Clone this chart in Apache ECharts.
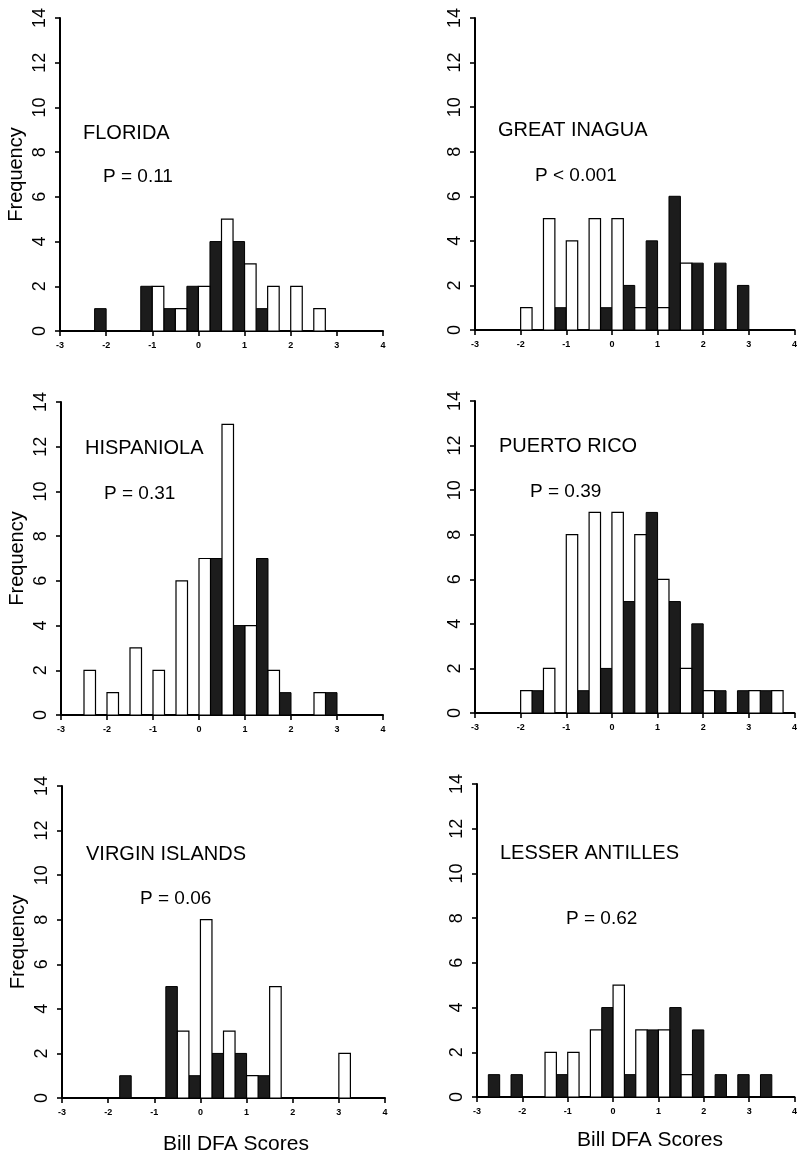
<!DOCTYPE html>
<html>
<head>
<meta charset="utf-8">
<script src="https://cdn.jsdelivr.net/npm/echarts@6/dist/echarts.min.js"></script>
<style>
html,body{margin:0;padding:0;background:#fff;}
#chart{width:800px;height:1156px;}
</style>
</head>
<body>
<div id="chart"></div>
<script>
// ---- Data ----
const binCenters = [-2.5, -2, -1.5, -1, -0.5, 0, 0.5, 1, 1.5, 2, 2.5, 3, 3.5];
const binWidth = 0.5;
const regions = ["FLORIDA", "GREAT INAGUA", "HISPANIOLA", "PUERTO RICO", "VIRGIN ISLANDS", "LESSER ANTILLES"];
const pLabels = ["P = 0.11", "P < 0.001", "P = 0.31", "P = 0.39", "P = 0.06", "P = 0.62"];

const floridaDark     = [0, 1, 0, 2, 1, 2, 4, 4, 1, 0, 0, 0, 0];
const floridaWhite    = [0, 0, 0, 2, 1, 2, 5, 3, 2, 2, 1, 0, 0];
const inaguaDark      = [0, 0, 0, 1, 0, 1, 2, 4, 6, 3, 3, 2, 0];
const inaguaWhite     = [0, 1, 5, 4, 5, 5, 1, 1, 3, 0, 0, 0, 0];
const hispaniolaDark  = [0, 0, 0, 0, 0, 0, 7, 4, 7, 1, 0, 1, 0];
const hispaniolaWhite = [2, 1, 3, 2, 6, 7, 13, 4, 2, 0, 1, 0, 0];
const puertoRicoDark  = [0, 0, 1, 0, 1, 2, 5, 9, 5, 4, 1, 1, 1];
const puertoRicoWhite = [0, 1, 2, 8, 9, 9, 8, 6, 2, 1, 0, 1, 1];
const virginDark      = [0, 0, 1, 0, 5, 1, 2, 2, 1, 0, 0, 0, 0];
const virginWhite     = [0, 0, 0, 0, 3, 8, 3, 1, 5, 0, 0, 2, 0];
const lesserDark      = [1, 1, 0, 1, 0, 4, 1, 3, 4, 3, 1, 1, 1];
const lesserWhite     = [0, 0, 2, 2, 3, 5, 3, 3, 1, 0, 0, 0, 0];

const darkCounts  = [floridaDark, inaguaDark, hispaniolaDark, puertoRicoDark, virginDark, lesserDark];
const whiteCounts = [floridaWhite, inaguaWhite, hispaniolaWhite, puertoRicoWhite, virginWhite, lesserWhite];

const xTicks = { min: -3, max: 4, interval: 1 };
const yTicks = { min: 0, max: 14, interval: 2 };
const xAxisTitle = "Bill DFA Scores";
const yAxisTitle = "Frequency";

// ---- Layout (positions, not data) ----
const gridBoxes = [
  { left: 60,  top: 18,  width: 323, height: 313 },
  { left: 475, top: 18,  width: 320, height: 312 },
  { left: 61,  top: 402, width: 322, height: 313 },
  { left: 475, top: 401, width: 320, height: 312 },
  { left: 62,  top: 786, width: 323, height: 312 },
  { left: 477, top: 784, width: 320, height: 313 }
];
const regionPos = [[83, 123], [498, 120], [85, 438], [499, 436], [86, 844], [500, 843]];
const pPos = [[103, 167], [535, 166], [104, 484], [530, 482], [140, 889], [566, 909]];
const FONT = "'Liberation Sans', Arial, Helvetica, sans-serif";

function toPairs(counts) {
  const out = [];
  binCenters.forEach((c, i) => { if (counts[i] > 0) out.push([c, counts[i]]); });
  return out;
}

function makeRender(lo, hi) {
  return function (params, api) {
    const c = api.value(0), v = api.value(1);
    const p0 = api.coord([c + lo, v]);
    const p1 = api.coord([c + hi, 0]);
    return {
      type: 'rect',
      shape: { x: p0[0], y: p0[1], width: p1[0] - p0[0], height: p1[1] - p0[1] },
      style: api.style()
    };
  };
}

const grid = [], xAxis = [], yAxis = [], series = [], title = [];
gridBoxes.forEach((g, i) => {
  grid.push(Object.assign({ containLabel: false }, g));
  xAxis.push({
    type: 'value', gridIndex: i, min: xTicks.min, max: xTicks.max, interval: xTicks.interval,
    splitLine: { show: false },
    axisLine: { show: true, onZero: false, lineStyle: { color: '#000', width: 2 } },
    axisTick: { show: true, length: 5, lineStyle: { color: '#000', width: 1.6 } },
    axisLabel: { color: '#000', fontSize: 9, fontWeight: 'bold', fontFamily: FONT, margin: 10 }
  });
  yAxis.push({
    type: 'value', gridIndex: i, min: yTicks.min, max: yTicks.max, interval: yTicks.interval,
    splitLine: { show: false },
    axisLine: { show: true, onZero: false, lineStyle: { color: '#000', width: 2 } },
    axisTick: { show: true, length: 5, lineStyle: { color: '#000', width: 1.6 } },
    axisLabel: { color: '#000', fontSize: 18, fontFamily: FONT, rotate: 90, margin: 11 },
    name: (i % 2 === 0) ? yAxisTitle : '',
    nameLocation: 'middle', nameGap: 34,
    nameTextStyle: { color: '#000', fontSize: 20, fontFamily: FONT }
  });
  series.push({
    type: 'custom', xAxisIndex: i, yAxisIndex: i,
    renderItem: makeRender(-binWidth / 2, 0),
    itemStyle: { color: '#1c1c1c', borderColor: '#000', borderWidth: 1 },
    data: toPairs(darkCounts[i]),
    silent: true
  });
  series.push({
    type: 'custom', xAxisIndex: i, yAxisIndex: i,
    renderItem: makeRender(0, binWidth / 2),
    itemStyle: { color: '#fff', borderColor: '#000', borderWidth: 1.2 },
    data: toPairs(whiteCounts[i]),
    silent: true
  });
  title.push({
    text: regions[i], left: regionPos[i][0], top: regionPos[i][1], padding: 0,
    textStyle: { color: '#000', fontSize: 20, fontWeight: 'normal', fontFamily: FONT }
  });
  title.push({
    text: pLabels[i], left: pPos[i][0], top: pPos[i][1], padding: 0,
    textStyle: { color: '#000', fontSize: 19, fontWeight: 'normal', fontFamily: FONT }
  });
});

const chart = echarts.init(document.getElementById('chart'), null, { renderer: 'canvas' });
chart.setOption({
  backgroundColor: '#fff',
  animation: false,
  title: title,
  grid: grid,
  xAxis: xAxis,
  yAxis: yAxis,
  series: series,
  graphic: [
    { type: 'text', x: 236, y: 1144, style: { text: xAxisTitle, fill: '#000', fontSize: 21, fontFamily: FONT, textAlign: 'center', textVerticalAlign: 'middle' } },
    { type: 'text', x: 650, y: 1140, style: { text: xAxisTitle, fill: '#000', fontSize: 21, fontFamily: FONT, textAlign: 'center', textVerticalAlign: 'middle' } }
  ]
});
</script>
</body>
</html>
